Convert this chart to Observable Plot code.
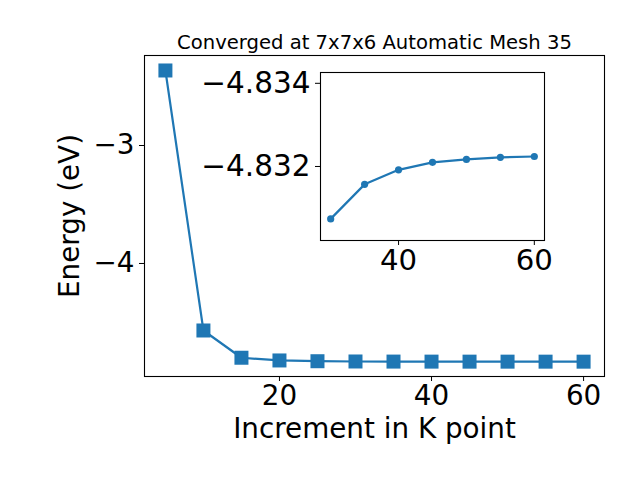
<!DOCTYPE html>
<html><head><meta charset="utf-8">
<script src="https://cdn.jsdelivr.net/npm/d3@7"></script>
<script src="https://cdn.jsdelivr.net/npm/@observablehq/plot@0.6"></script>
<style>
html,body{margin:0;padding:0;background:#fff;}
#wrap{position:relative;width:640px;height:480px;overflow:hidden;}
#wrap > svg{position:absolute;}
</style></head><body><div id="wrap"></div>
<script>
const kPoints = [5, 10, 15, 20, 25, 30, 35, 40, 45, 50, 55, 60];
const energies = [-2.364, -4.568, -4.799, -4.822, -4.8285, -4.83074, -4.83157, -4.83192, -4.8321, -4.83217, -4.83222, -4.83224];
const titleText = "Converged at 7x7x6 Automatic Mesh 35";
const xLabel = "Increment in K point";
const yLabel = "Energy (eV)";
const mainXTicks = [20, 40, 60];
const mainYTicks = [-4, -3];
const insetXTicks = [40, 60];
const insetYTicks = [-4.834, -4.832];

const data = kPoints.map((k, i) => ({k, e: energies[i]}));
const insetData = data.filter(d => d.k >= 30);
const blue = "#1f77b4";
const font = "DejaVu Sans";

const main = Plot.plot({
  width: 640, height: 480,
  marginLeft: 144, marginRight: 36, marginTop: 55, marginBottom: 104,
  style: {fontFamily: font, background: "white", color: "black"},
  x: {domain: [2.25, 62.75]},
  y: {domain: [-4.958, -2.237]},
  marks: [
    Plot.frame({stroke: "black", strokeWidth: 1.1}),
    Plot.axisX({ticks: mainXTicks, tickSize: 5, tickPadding: 4, fontSize: 27.8, label: null, tickFormat: d3.format("d")}),
    Plot.axisY({ticks: mainYTicks, tickSize: 5, tickPadding: 5, fontSize: 27.8, label: null, tickFormat: d3.format("d")}),
    Plot.line(data, {x: "k", y: "e", stroke: blue, strokeWidth: 2.2}),
    Plot.dot(data, {x: "k", y: "e", symbol: "square", r: 7.9, fill: blue}),
    Plot.text([titleText], {frameAnchor: "top", dy: -7, lineAnchor: "bottom", fontSize: 19.6, text: d => d}),
    Plot.text([xLabel], {frameAnchor: "bottom", dy: 42, lineAnchor: "top", fontSize: 27.8, text: d => d}),
    Plot.text([yLabel], {frameAnchor: "left", textAnchor: "middle", lineAnchor: "middle", dx: -74, rotate: -90, fontSize: 27.8, text: d => d})
  ]
});
main.style.left = "0px"; main.style.top = "0px";

const inset = Plot.plot({
  width: 384, height: 240,
  marginLeft: 140, marginRight: 20, marginTop: 22, marginBottom: 50,
  style: {fontFamily: font, background: "transparent", color: "black"},
  x: {domain: [28.5, 61.5]},
  y: {domain: [-4.83426, -4.83022], reverse: true},
  marks: [
    Plot.frame({fill: "white"}),
    Plot.line(insetData, {x: "k", y: "e", stroke: blue, strokeWidth: 2.2}),
    Plot.dot(insetData, {x: "k", y: "e", r: 3.6, fill: blue}),
    Plot.frame({stroke: "black", strokeWidth: 1.1}),
    Plot.axisX({ticks: insetXTicks, tickSize: 5, tickPadding: 4, fontSize: 29.2, label: null, tickFormat: d3.format("d")}),
    Plot.axisY({ticks: insetYTicks, tickSize: 5, tickPadding: 5, fontSize: 29.5, label: null, tickFormat: d3.format(".3f")})
  ]
});
inset.style.left = "180px"; inset.style.top = "50px";

const wrap = document.getElementById("wrap");
wrap.appendChild(main);
wrap.appendChild(inset);
</script></body></html>
